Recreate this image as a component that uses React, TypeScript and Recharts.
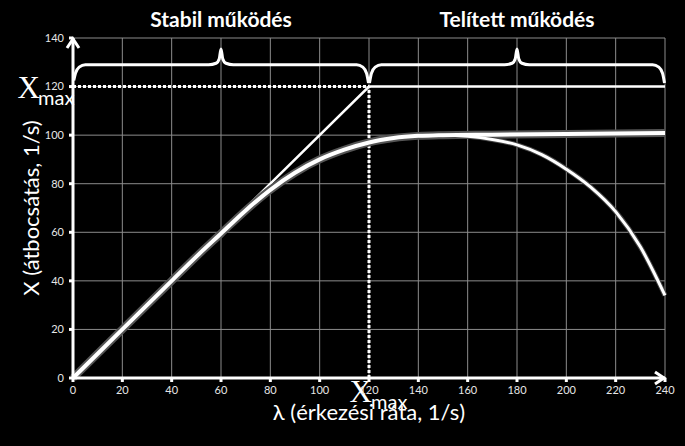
import React from 'react';
import { LineChart, Line, XAxis, YAxis, CartesianGrid, ReferenceLine, ReferenceDot } from 'recharts';

const xTicks = [0, 20, 40, 60, 80, 100, 120, 140, 160, 180, 200, 220, 240];
const yTicks = [0, 20, 40, 60, 80, 100, 120, 140];

const X_MAX = 120;

// ideal: linear up to Xmax then saturated
const idealCurve = [
  { x: 0, y: 0 },
  { x: 120, y: 120 },
  { x: 240, y: 120 },
];

// throughput rising to saturation, stays flat
const saturatedCurve = [
  { x: 0, y: 0 }, { x: 10, y: 10 }, { x: 20, y: 20 }, { x: 30, y: 30 }, { x: 40, y: 40 },
  { x: 50, y: 50 }, { x: 60, y: 59.5 }, { x: 70, y: 69 }, { x: 80, y: 77.5 }, { x: 90, y: 84.5 },
  { x: 100, y: 90 }, { x: 110, y: 94 }, { x: 120, y: 97 }, { x: 130, y: 98.8 }, { x: 140, y: 99.7 },
  { x: 150, y: 100 }, { x: 170, y: 100.2 }, { x: 200, y: 100.5 }, { x: 240, y: 100.9 },
];

// throughput collapsing under overload
const collapseCurve = [
  { x: 140, y: 99.7 }, { x: 150, y: 100 }, { x: 160, y: 99.5 }, { x: 170, y: 98.2 },
  { x: 180, y: 96 }, { x: 190, y: 92 }, { x: 200, y: 86 }, { x: 210, y: 78.5 },
  { x: 220, y: 68.5 }, { x: 230, y: 54 }, { x: 240, y: 34 },
];

const braceStable = [
  { x: 0.3, y: 122.5 }, { x: 1, y: 125.5 }, { x: 2.5, y: 128 }, { x: 5, y: 129 }, { x: 55, y: 129 },
  { x: 58, y: 129.6 }, { x: 59.3, y: 131.5 }, { x: 60, y: 135.5 }, { x: 60.7, y: 131.5 }, { x: 62, y: 129.6 },
  { x: 65, y: 129 }, { x: 115, y: 129 }, { x: 117.5, y: 128 }, { x: 119, y: 125.5 }, { x: 119.8, y: 121.5 },
];

const braceSaturated = [
  { x: 120.2, y: 121.5 }, { x: 121, y: 125.5 }, { x: 122.5, y: 128 }, { x: 125, y: 129 }, { x: 175, y: 129 },
  { x: 178, y: 129.6 }, { x: 179.3, y: 131.5 }, { x: 180, y: 135.5 }, { x: 180.7, y: 131.5 }, { x: 182, y: 129.6 },
  { x: 185, y: 129 }, { x: 235, y: 129 }, { x: 237.5, y: 128 }, { x: 239, y: 125.5 }, { x: 239.8, y: 121.5 },
];

const titleStable = 'Stabil működés';
const titleSaturated = 'Telített működés';
const xLabel = 'λ (érkezési ráta, 1/s)';
const yLabel = 'X (átbocsátás, 1/s)';

const FONT = 'Lato, "Open Sans", sans-serif';

const Title = (text: string) => (props: any) => (
  <text x={props.cx} y={props.cy - 11} textAnchor="middle" fill="#fff" fontFamily={FONT} fontWeight={700} fontSize={21}>
    {text}
  </text>
);

const XmaxLeft = (props: any) => (
  <g>
    <text x={props.cx - 33} y={props.cy + 11} textAnchor="end" fill="#fff" fontFamily='"Liberation Serif", serif' fontSize={31}>X</text>
    <text x={props.cx - 35} y={props.cy + 18} textAnchor="start" fill="#fff" fontFamily={FONT} fontSize={20}>max</text>
  </g>
);

const XmaxBottom = (props: any) => (
  <g>
    <text x={props.cx + 3} y={props.cy + 24} textAnchor="end" fill="#fff" fontFamily='"Liberation Serif", serif' fontSize={31}>X</text>
    <text x={props.cx + 2} y={props.cy + 31} textAnchor="start" fill="#fff" fontFamily={FONT} fontSize={20}>max</text>
  </g>
);

const XLabel = (props: any) => (
  <text x={props.cx} y={props.cy + 42} textAnchor="middle" fill="#fff" fontFamily={FONT} fontSize={22}>{xLabel}</text>
);

const YLabel = (props: any) => (
  <text x={props.cx - 43} y={props.cy} textAnchor="middle" dominantBaseline="central" fill="#fff" fontFamily={FONT} fontSize={22}
    transform={`rotate(-90, ${props.cx - 43}, ${props.cy})`}>{yLabel}</text>
);

const ArrowUp = (props: any) => (
  <path d={`M ${props.cx - 6} ${props.cy + 10} L ${props.cx} ${props.cy + 1} L ${props.cx + 6} ${props.cy + 10}`} stroke="#fff" strokeWidth={3} fill="none" />
);

const ArrowRight = (props: any) => (
  <path d={`M ${props.cx - 10} ${props.cy - 6} L ${props.cx - 1} ${props.cy} L ${props.cx - 10} ${props.cy + 6}`} stroke="#fff" strokeWidth={3} fill="none" />
);

export default function App() {
  return (
    <div style={{ position: 'absolute', left: 0, top: 0, width: 685, height: 446, background: '#000' }}>
      <LineChart width={685} height={446} margin={{ top: 38, right: 20, bottom: 38, left: 43 }}>
        <CartesianGrid stroke="#8c8c8c" strokeWidth={1} />
        <XAxis type="number" dataKey="x" domain={[0, 240]} ticks={xTicks} interval={0} height={30}
          axisLine={{ stroke: '#fff', strokeWidth: 3 }} tickLine={{ stroke: '#fff', strokeWidth: 3 }} tickSize={4} tickMargin={4}
          tick={{ fill: '#e6e6e6', fontSize: 11, fontFamily: FONT }} />
        <YAxis type="number" dataKey="y" domain={[0, 140]} ticks={yTicks} interval={0} width={30}
          axisLine={{ stroke: '#fff', strokeWidth: 3 }} tickLine={{ stroke: '#fff', strokeWidth: 3 }} tickSize={4} tickMargin={5}
          tick={{ fill: '#e6e6e6', fontSize: 11, fontFamily: FONT }} />
        <ReferenceLine segment={[{ x: 0, y: X_MAX }, { x: X_MAX, y: X_MAX }]} stroke="#fff" strokeWidth={3} strokeDasharray="3 2" />
        <ReferenceLine segment={[{ x: X_MAX, y: 0 }, { x: X_MAX, y: X_MAX }]} stroke="#fff" strokeWidth={3} strokeDasharray="3 2" />
        <Line data={idealCurve} dataKey="y" type="linear" stroke="#fff" strokeWidth={2.5} dot={false} isAnimationActive={false} />
        <Line data={saturatedCurve} dataKey="y" type="monotone" stroke="#555" strokeWidth={8} dot={false} isAnimationActive={false} />
        <Line data={collapseCurve} dataKey="y" type="monotone" stroke="#444" strokeWidth={5} dot={false} isAnimationActive={false} />
        <Line data={saturatedCurve} dataKey="y" type="monotone" stroke="#fff" strokeWidth={4} dot={false} isAnimationActive={false} />
        <Line data={collapseCurve} dataKey="y" type="monotone" stroke="#fff" strokeWidth={3} dot={false} isAnimationActive={false} />
        <Line data={braceStable} dataKey="y" type="monotone" stroke="#fff" strokeWidth={3} dot={false} isAnimationActive={false} />
        <Line data={braceSaturated} dataKey="y" type="monotone" stroke="#fff" strokeWidth={3} dot={false} isAnimationActive={false} />
        <ReferenceDot x={0} y={140} r={0} ifOverflow="visible" shape={ArrowUp} />
        <ReferenceDot x={240} y={0} r={0} ifOverflow="visible" shape={ArrowRight} />
        <ReferenceDot x={60} y={140} r={0} ifOverflow="visible" shape={Title(titleStable)} />
        <ReferenceDot x={180} y={140} r={0} ifOverflow="visible" shape={Title(titleSaturated)} />
        <ReferenceDot x={0} y={X_MAX} r={0} ifOverflow="visible" shape={XmaxLeft} />
        <ReferenceDot x={X_MAX} y={0} r={0} ifOverflow="visible" shape={XmaxBottom} />
        <ReferenceDot x={120} y={0} r={0} ifOverflow="visible" shape={XLabel} />
        <ReferenceDot x={0} y={70} r={0} ifOverflow="visible" shape={YLabel} />
      </LineChart>
    </div>
  );
}
